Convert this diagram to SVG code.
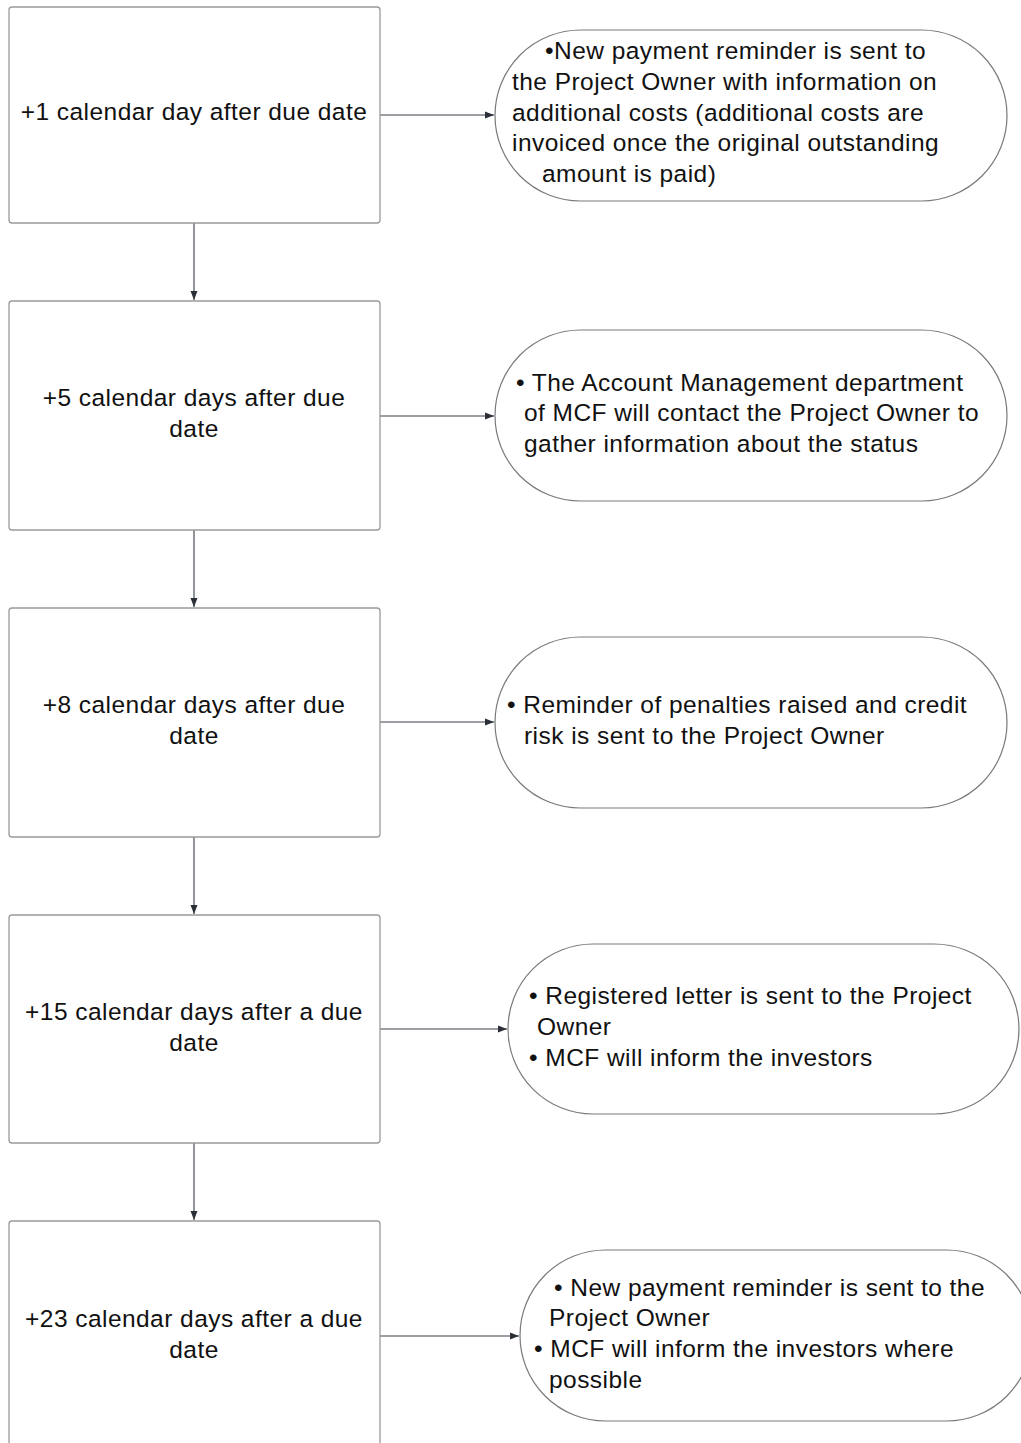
<svg xmlns="http://www.w3.org/2000/svg" width="1021" height="1443" viewBox="0 0 1021 1443">
<style>
.box{fill:#fff;stroke:#9a9a9a;stroke-width:1.3}
.st{fill:#fff;stroke:#7a7a7a;stroke-width:1.2}
text{font-family:"Liberation Sans",Arial,sans-serif;font-size:24.5px;letter-spacing:0.45px;fill:#111}
.c{text-anchor:middle}
.con{stroke:#3a3f48;stroke-width:1.1;fill:none}
</style>
<defs>
<marker id="ah" markerWidth="10" markerHeight="8" refX="9" refY="4" orient="auto" markerUnits="userSpaceOnUse">
<path d="M0,0.5 L9,4 L0,7.5 Z" fill="#2a2f38"/>
</marker>
</defs>
<rect width="1021" height="1443" fill="#fff"/>
<g id="connectors">
<path class="con" d="M380,115 H494" marker-end="url(#ah)"/>
<path class="con" d="M380,416 H494" marker-end="url(#ah)"/>
<path class="con" d="M380,722 H494" marker-end="url(#ah)"/>
<path class="con" d="M380,1029 H507" marker-end="url(#ah)"/>
<path class="con" d="M380,1336 H519" marker-end="url(#ah)"/>
<path class="con" d="M194,223 V300" marker-end="url(#ah)"/>
<path class="con" d="M194,530 V607" marker-end="url(#ah)"/>
<path class="con" d="M194,837 V914" marker-end="url(#ah)"/>
<path class="con" d="M194,1143 V1220" marker-end="url(#ah)"/>
</g>
<g id="box1">
<rect class="box" x="9" y="7" width="371" height="216" rx="3"/>
<text class="c" x="194" y="120">+1 calendar day after due date</text>
</g>
<g id="box2">
<rect class="box" x="9" y="301" width="371" height="229" rx="3"/>
<text class="c" x="194" y="406">+5 calendar days after due</text>
<text class="c" x="194" y="437">date</text>
</g>
<g id="box3">
<rect class="box" x="9" y="608" width="371" height="229" rx="3"/>
<text class="c" x="194" y="713">+8 calendar days after due</text>
<text class="c" x="194" y="744">date</text>
</g>
<g id="box4">
<rect class="box" x="9" y="915" width="371" height="228" rx="3"/>
<text class="c" x="194" y="1020">+15 calendar days after a due</text>
<text class="c" x="194" y="1051">date</text>
</g>
<g id="box5">
<rect class="box" x="9" y="1221" width="371" height="240" rx="3"/>
<text class="c" x="194" y="1327">+23 calendar days after a due</text>
<text class="c" x="194" y="1358">date</text>
</g>
<g id="step1">
<rect class="st" x="495" y="30" width="512" height="171" rx="85.5"/>
<text x="545" y="59">•New payment reminder is sent to</text>
<text x="512" y="90">the Project Owner with information on</text>
<text x="512" y="121">additional costs (additional costs are</text>
<text x="512" y="151">invoiced once the original outstanding</text>
<text x="542" y="182">amount is paid)</text>
</g>
<g id="step2">
<rect class="st" x="495" y="330" width="512" height="171" rx="85.5"/>
<text x="516" y="391">• The Account Management department</text>
<text x="524" y="421">of MCF will contact the Project Owner to</text>
<text x="524" y="452">gather information about the status</text>
</g>
<g id="step3">
<rect class="st" x="495" y="637" width="512" height="171" rx="85.5"/>
<text x="507" y="713">• Reminder of penalties raised and credit</text>
<text x="524" y="744">risk is sent to the Project Owner</text>
</g>
<g id="step4">
<rect class="st" x="508" y="944" width="511" height="170" rx="85"/>
<text x="529" y="1004">• Registered letter is sent to the Project</text>
<text x="537" y="1035">Owner</text>
<text x="529" y="1066">• MCF will inform the investors</text>
</g>
<g id="step5">
<rect class="st" x="520" y="1250" width="512" height="171" rx="85.5"/>
<text x="554" y="1296">• New payment reminder is sent to the</text>
<text x="549" y="1326">Project Owner</text>
<text x="534" y="1357">• MCF will inform the investors where</text>
<text x="549" y="1388">possible</text>
</g>
</svg>
